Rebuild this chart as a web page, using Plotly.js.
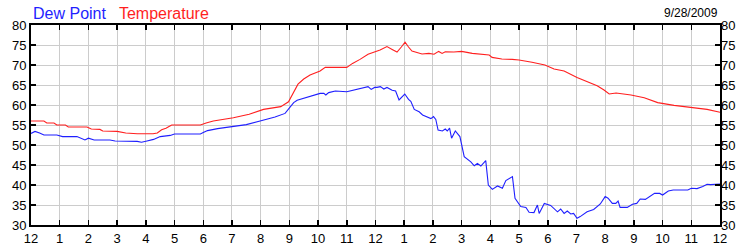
<!DOCTYPE html>
<html>
<head>
<meta charset="utf-8">
<script src="https://cdn.plot.ly/plotly-3.0.1.min.js"></script>
<style>html,body{margin:0;padding:0;background:#fff;}#chart{width:750px;height:250px;}</style>
</head>
<body>
<div id="chart"></div>
<script>
// Hours since midnight, 9/28/2009
var tempHours = [0,0.45,0.55,0.8,0.9,1.2,1.3,1.95,2.1,2.4,2.5,3.0,3.3,3.7,4.25,4.4,4.55,4.7,4.9,5.9,6.1,6.35,7.05,7.6,8.1,8.7,8.97,9.14,9.3,9.5,9.72,10.07,10.25,11.0,11.2,11.46,11.74,12.16,12.4,12.58,12.75,12.9,13.03,13.15,13.27,13.62,13.86,14.04,14.2,14.32,14.43,14.73,15.0,15.37,15.96,16.06,16.4,16.76,17.0,17.45,17.9,18.22,18.57,19.02,19.37,19.72,19.96,20.14,20.38,20.9,21.36,21.83,22.4,23.0,23.55,24.0];
var tempValues = [56,56,55.5,55.5,55,55,54.5,54.5,54,53.9,53.5,53.4,53,52.8,52.8,53,53.8,54.2,55,55,55.5,56,56.8,57.7,58.9,59.6,60.8,62.9,65.2,66.5,67.5,68.5,69.4,69.4,70.4,71.4,72.7,73.75,74.6,73.9,73.25,74.5,75.7,74.5,73.5,72.75,72.9,72.7,73.4,72.9,73.3,73.25,73.4,72.9,72.5,71.9,71.5,71.4,71.25,70.7,70,69,68.5,66.9,65.8,64.8,63.75,62.75,63,62.5,61.8,60.6,59.9,59.4,58.9,58.2];

var dewHours = [0,0.14,0.3,0.45,0.9,1.1,1.6,1.75,1.88,2.0,2.2,2.75,2.93,3.7,3.85,4.04,4.27,4.5,4.85,5.0,5.9,6.0,6.15,6.5,7.05,7.5,7.98,8.5,8.85,9.0,9.15,9.27,9.5,9.84,10.07,10.2,10.27,10.37,10.6,11.0,11.3,11.58,11.74,11.85,11.97,12.05,12.17,12.29,12.4,12.58,12.7,12.82,12.94,13.02,13.15,13.23,13.35,13.52,13.64,13.81,13.93,14.02,14.1,14.18,14.33,14.43,14.5,14.58,14.65,14.78,14.94,15.09,15.32,15.44,15.55,15.67,15.84,15.93,16.07,16.25,16.42,16.54,16.77,16.86,17.06,17.24,17.35,17.52,17.64,17.7,17.88,18.1,18.34,18.45,18.57,18.68,18.8,18.9,19.02,19.13,19.37,19.6,19.83,20.0,20.1,20.25,20.37,20.45,20.52,20.77,20.95,21.1,21.22,21.4,21.55,21.72,21.9,22.0,22.2,22.37,22.88,23.0,23.2,23.4,23.55,23.67,24.0];
var dewValues = [52.9,53.4,53,52.5,52.5,52.1,52.1,51.7,51.25,51.7,51.25,51.25,51,50.9,50.7,51,51.4,52.1,52.4,52.75,52.75,53.1,53.6,54.1,54.6,55.1,56,57,57.9,59.2,60.6,61.2,61.7,62.25,62.9,62.9,62.5,63.1,63.5,63.3,63.75,64.2,64.6,63.9,64.4,64.4,64.6,64,64.4,63.7,63.5,61.25,62.1,62.75,61.4,60.9,58.9,58.3,57.5,56.9,56.6,57.1,56.4,53.75,53.5,54,53.5,54.2,51.7,53.5,52.1,47.1,45.8,44.8,45.4,44.75,46.1,40,38.9,39.75,39.2,41.1,42.1,36.7,34.6,34.4,33.2,33.1,35,32.9,35.4,34.9,33.3,34,32.9,33.5,32.75,32.9,31.7,32.1,33.3,33.9,35.25,37.1,36.7,35.4,35.4,36,34.4,34.4,35.2,35.4,36.5,36.4,37.1,37.9,37.9,37.5,38.5,38.75,38.75,39.2,39.1,39.6,40.2,40.1,40.25];

var xTickVals = [0,1,2,3,4,5,6,7,8,9,10,11,12,13,14,15,16,17,18,19,20,21,22,23,24];
var xTickText = ["12","1","2","3","4","5","6","7","8","9","10","11","12","1","2","3","4","5","6","7","8","9","10","11","12"];
var yTickVals = [30,35,40,45,50,55,60,65,70,75,80];
var dateLabel = "9/28/2009";

var font = "Liberation Sans, Arial, sans-serif";

var traces = [
  {x: dewHours, y: dewValues, type: "scatter", mode: "lines", name: "Dew Point",
   line: {color: "#1f1fff", width: 1.1}, hoverinfo: "skip"},
  {x: tempHours, y: tempValues, type: "scatter", mode: "lines", name: "Temperature",
   line: {color: "#ff1f1f", width: 1.1}, hoverinfo: "skip"},
  {x: [null], y: [null], yaxis: "y2", type: "scatter", mode: "lines", showlegend: false, hoverinfo: "skip"}
];

var layout = {
  width: 750, height: 250,
  margin: {l: 31, r: 30, t: 25, b: 25, pad: 0},
  paper_bgcolor: "#ffffff", plot_bgcolor: "#ffffff",
  showlegend: false,
  font: {family: font, size: 12, color: "#000"},
  xaxis: {
    range: [0, 24], tickvals: xTickVals, ticktext: xTickText,
    ticks: "inside", ticklen: 5, tickwidth: 1.5, tickcolor: "#000",
    showline: true, linecolor: "#000", linewidth: 2, mirror: "ticks",
    showgrid: true, gridcolor: "#cccccc", gridwidth: 1, zeroline: false,
    tickfont: {family: font, size: 13, color: "#000"}, fixedrange: true
  },
  yaxis: {
    range: [30, 80], tickvals: yTickVals,
    ticks: "inside", ticklen: 5, tickwidth: 1.5, tickcolor: "#000",
    showline: true, linecolor: "#000", linewidth: 2, mirror: "ticks",
    showgrid: true, gridcolor: "#cccccc", gridwidth: 1, zeroline: false,
    tickfont: {family: font, size: 13, color: "#000"}, fixedrange: true
  },
  yaxis2: {
    range: [30, 80], tickvals: yTickVals, overlaying: "y", side: "right",
    ticks: "", showline: false, showgrid: false, zeroline: false,
    tickfont: {family: font, size: 13, color: "#000"}, fixedrange: true
  },
  annotations: [
    {text: '<span style="color:#1f1fff">Dew Point</span>   <span style="color:#ff1f1f">Temperature</span>',
     xref: "paper", yref: "paper", x: 0, y: 1, xanchor: "left", yanchor: "bottom",
     xshift: 0, yshift: 1, showarrow: false, font: {family: font, size: 16}},
    {text: dateLabel, xref: "paper", yref: "paper", x: 1, y: 1, xanchor: "right", yanchor: "bottom",
     yshift: 3, showarrow: false, font: {family: font, size: 12, color: "#000"}}
  ]
};

Plotly.newPlot("chart", traces, layout, {displayModeBar: false, staticPlot: true});
</script>
</body>
</html>
